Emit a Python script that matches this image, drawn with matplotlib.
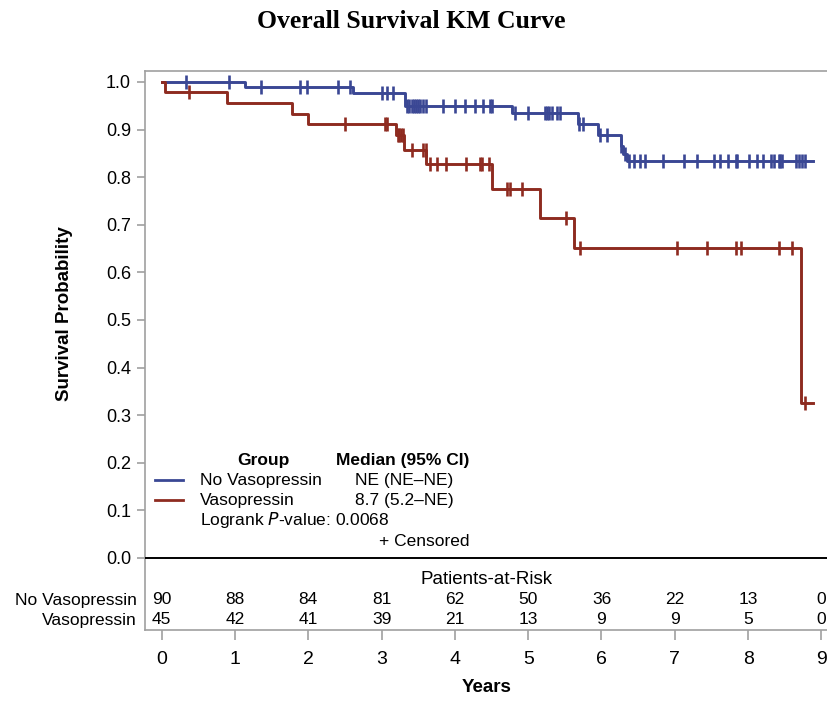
import numpy as np
import matplotlib
matplotlib.use("Agg")
import matplotlib.pyplot as plt
from matplotlib.lines import Line2D

plt.rcParams['font.family'] = ['Liberation Sans', 'DejaVu Sans']

# ---------------- data ----------------
groups = ["No Vasopressin", "Vasopressin"]
colors = ["#3a4794", "#8e2b20"]

# No Vasopressin
blue_event_times = [1.13, 2.61, 3.32, 4.78, 5.68, 5.95, 6.26, 6.30, 6.35]
blue_surv = [0.989, 0.977, 0.950, 0.934, 0.911, 0.888, 0.866, 0.849, 0.833]
blue_censor = [0.33, 0.92, 1.36, 1.89, 1.98, 2.40, 2.57, 3.01, 3.07, 3.15,
               3.35, 3.38, 3.41, 3.44, 3.47, 3.50, 3.53, 3.57, 3.61,
               3.84, 4.00, 4.14, 4.28, 4.39, 4.48, 4.50, 4.82, 5.00,
               5.23, 5.26, 5.29, 5.32, 5.39, 5.44, 5.69, 5.75, 5.98, 6.07,
               6.27, 6.32, 6.37, 6.45, 6.53, 6.60, 6.84, 7.12, 7.30, 7.53,
               7.62, 7.73, 7.83, 7.85, 8.01, 8.12, 8.21, 8.31, 8.35, 8.42,
               8.44, 8.46, 8.65, 8.69, 8.74, 8.78]
blue_end = 8.88

# Vasopressin
red_event_times = [0.04, 0.89, 1.78, 2.00, 3.20, 3.31, 3.61, 4.50, 5.16, 5.63, 8.72]
red_surv = [0.978, 0.956, 0.933, 0.911, 0.888, 0.857, 0.827, 0.776, 0.715, 0.652, 0.326]
red_censor = [0.37, 2.50, 3.04, 3.07, 3.22, 3.24, 3.27, 3.29, 3.41, 3.57, 3.60,
              3.66, 3.76, 3.88, 4.15, 4.34, 4.37, 4.46, 4.71, 4.75, 4.91,
              5.52, 5.71, 7.03, 7.44, 7.83, 7.90, 8.42, 8.60, 8.78]
red_end = 8.88

risk_times = [0, 1, 2, 3, 4, 5, 6, 7, 8, 9]
risk_blue = [90, 88, 84, 81, 62, 50, 36, 22, 13, 0]
risk_red = [45, 42, 41, 39, 21, 13, 9, 9, 5, 0]

medians = ["NE (NE\u2013NE)", "8.7 (5.2\u2013NE)"]
pvalue_text = "0.0068"

# ---------------- figure ----------------
W, H = 828, 703
fig = plt.figure(figsize=(W / 100, H / 100), dpi=100)
L, R, T, B = 145, 828, 70.7, 630
ax = fig.add_axes([L / W, (H - B) / H, (R - L) / W, (B - T) / H])

x_per_px = 1 / 73.3
y_per_px = 1 / 476.0
ax.set_xlim(-(161.7 - L) * x_per_px, (R - 161.7) * x_per_px)
ax.set_ylim(-(B - 558) * y_per_px, 1.0 + (82 - T) * y_per_px)

spine_c = "#a0a0a0"
for s in ["left", "top", "bottom"]:
    ax.spines[s].set_color(spine_c)
    ax.spines[s].set_linewidth(1.2)
ax.spines["right"].set_visible(False)

ax.set_yticks(np.round(np.arange(0, 1.01, 0.1), 1))
ax.set_yticklabels([f"{v:.1f}" for v in np.arange(0, 1.01, 0.1)])
ax.set_xticks(risk_times)
ax.tick_params(axis="y", direction="out", length=6, width=1.2, color=spine_c,
               labelsize=13, pad=4)
ax.tick_params(axis="x", direction="out", length=7, width=1.2, color=spine_c,
               labelsize=14, pad=8)

ax.axhline(0, color="black", lw=1.4, zorder=3)


def step_value(times, surv, t):
    idx = np.searchsorted(np.asarray(times), t, side="right") - 1
    vals = np.r_[1.0, surv]
    return vals[idx + 1]


for times, surv, cens, end, col in [
    (blue_event_times, blue_surv, blue_censor, blue_end, colors[0]),
    (red_event_times, red_surv, red_censor, red_end, colors[1]),
]:
    xs = np.r_[0.0, times, end]
    ys = np.r_[1.0, surv, surv[-1]]
    ax.step(xs, ys, where="post", color=col, lw=2.1, zorder=4)
    cy = [step_value(times, surv, c) for c in cens]
    ax.plot(cens, cy, ls="none", marker="|", ms=9.5, mew=1.9, color=col, zorder=5)

# ---------------- legend block ----------------
def ax_x(px):
    return (px - L) / (R - L)


def ax_y(py):
    return (B - py) / (B - T)


tr = ax.transAxes
fs = 12.5
ax.text(ax_x(263), ax_y(460), "Group", transform=tr, ha="center", va="center",
        fontsize=fs, fontweight="bold")
ax.text(ax_x(403), ax_y(460), "Median (95% CI)", transform=tr, ha="center",
        va="center", fontsize=fs, fontweight="bold")
for i, (g, col, med) in enumerate(zip(groups, colors, medians)):
    py = 480 + 20 * i
    ax.add_line(Line2D([ax_x(155), ax_x(183)], [ax_y(py), ax_y(py)],
                       transform=tr, color=col, lw=2.0))
    ax.text(ax_x(200), ax_y(py), g, transform=tr, ha="left", va="center", fontsize=fs)
    ax.text(ax_x(404), ax_y(py), med, transform=tr, ha="center", va="center", fontsize=fs)
ax.text(ax_x(200), ax_y(520), "Logrank $\\mathit{P}$-value: " + pvalue_text,
        transform=tr, ha="left", va="center", fontsize=fs)
ax.text(ax_x(470), ax_y(541), "+ Censored", transform=tr, ha="right",
        va="center", fontsize=fs)

# ---------------- risk table ----------------
ax.text(ax_x(487), ax_y(580), "Patients-at-Risk", transform=tr, ha="center",
        va="center", fontsize=13.5)
for row, (g, vals) in enumerate(zip(groups, [risk_blue, risk_red])):
    py = 600 + 20 * row
    ax.text(ax_x(137), ax_y(py), g, transform=tr, ha="right", va="center", fontsize=fs)
    for t, v in zip(risk_times, vals):
        ax.text(t, -(py - 558) * y_per_px, str(v), ha="center", va="center",
                fontsize=fs, clip_on=False)

# ---------------- labels ----------------
fig.text(65 / W, 1 - 314 / H, "Survival Probability", rotation=90, ha="center",
         va="center", fontsize=13.5, fontweight="bold")
fig.text(487 / W, 1 - 688 / H, "Years", ha="center", va="center",
         fontsize=13.5, fontweight="bold")
fig.text(411.5 / W, 1 - 21 / H, "Overall Survival KM Curve", ha="center",
         va="center", fontsize=18.5, fontweight="bold",
         family=["Liberation Serif", "DejaVu Serif"])

fig.savefig("out.png", dpi=100)
